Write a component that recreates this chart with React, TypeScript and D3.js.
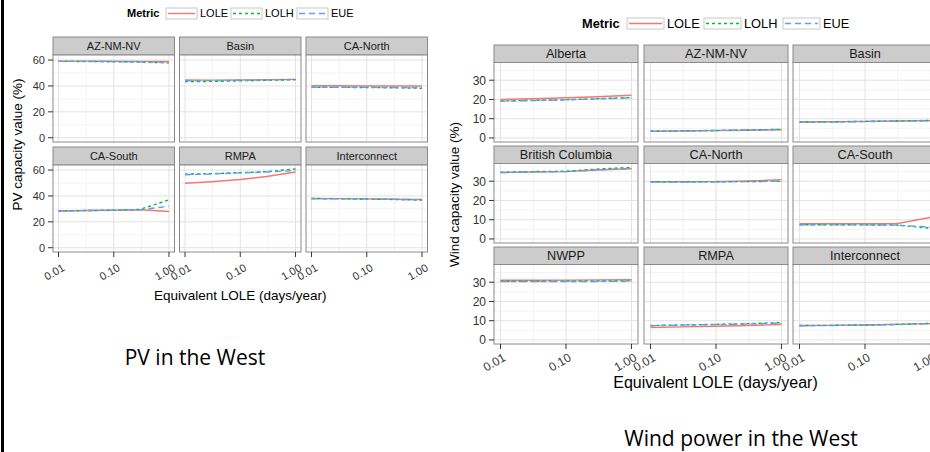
import React from 'react';
import * as d3 from 'd3';

// ---------- DATA ----------
const xValues = [0.01, 0.03, 0.1, 0.3, 1.0];
const xTicks = [0.01, 0.1, 1.0];
const xTickLabels = ['0.01', '0.10', '1.00'];
const xMinor = [Math.pow(10, -1.5), Math.pow(10, -0.5)];
const metrics = ['LOLE', 'LOLH', 'EUE'];

const pvRegions = ['AZ-NM-NV', 'Basin', 'CA-North', 'CA-South', 'RMPA', 'Interconnect'];
const pvLOLE = [
  [59.2, 59.2, 59.1, 59.0, 58.9],
  [44.6, 44.5, 44.6, 44.8, 45.1],
  [40.1, 40.1, 40.0, 40.0, 40.0],
  [28.4, 28.7, 29.0, 29.3, 28.0],
  [49.8, 51.0, 52.7, 55.0, 58.5],
  [38.0, 37.9, 37.7, 37.5, 37.2],
];
const pvLOLH = [
  [59.0, 58.9, 58.7, 58.4, 57.8],
  [43.4, 43.5, 44.0, 44.4, 44.8],
  [39.0, 38.9, 38.8, 38.6, 38.2],
  [28.4, 28.7, 29.0, 29.6, 37.0],
  [56.8, 57.2, 58.0, 58.8, 60.8],
  [38.0, 37.9, 37.6, 37.3, 36.8],
];
const pvEUE = [
  [59.0, 59.0, 58.8, 58.6, 58.2],
  [44.0, 44.1, 44.4, 44.7, 45.0],
  [39.0, 39.0, 38.9, 38.8, 38.6],
  [28.4, 28.7, 29.0, 29.4, 32.0],
  [56.4, 57.0, 57.8, 58.5, 59.5],
  [37.9, 37.8, 37.6, 37.4, 37.0],
];
const pvYTicks = [0, 20, 40, 60];
const pvYMinor = [10, 30, 50];

const windRegions = ['Alberta', 'AZ-NM-NV', 'Basin', 'British Columbia', 'CA-North', 'CA-South', 'NWPP', 'RMPA', 'Interconnect'];
const windLOLE = [
  [20.0, 20.4, 20.9, 21.4, 22.2],
  [3.4, 3.6, 3.8, 4.0, 4.3],
  [8.3, 8.4, 8.6, 8.8, 9.0],
  [34.5, 34.8, 35.0, 35.8, 36.5],
  [29.7, 29.7, 29.8, 30.1, 30.8],
  [7.9, 7.9, 7.9, 7.9, 11.2],
  [31.0, 31.0, 31.1, 31.2, 31.3],
  [6.5, 6.8, 7.1, 7.5, 8.0],
  [7.5, 7.6, 7.8, 8.1, 8.5],
];
const windLOLH = [
  [19.2, 19.5, 19.9, 20.4, 21.0],
  [3.6, 3.7, 3.9, 4.1, 4.5],
  [8.3, 8.4, 8.6, 8.8, 9.1],
  [34.6, 35.0, 35.2, 36.3, 37.2],
  [29.7, 29.7, 29.7, 29.8, 30.0],
  [7.4, 7.4, 7.3, 7.2, 5.6],
  [30.5, 30.5, 30.6, 30.6, 30.7],
  [7.5, 7.8, 8.1, 8.5, 9.0],
  [7.5, 7.6, 7.8, 8.1, 8.6],
];
const windEUE = [
  [19.1, 19.4, 19.8, 20.3, 20.8],
  [3.5, 3.7, 3.9, 4.1, 4.4],
  [8.2, 8.3, 8.5, 8.7, 8.9],
  [34.5, 34.8, 35.0, 35.9, 36.6],
  [29.6, 29.6, 29.7, 29.8, 30.0],
  [7.4, 7.3, 7.3, 7.2, 6.2],
  [30.3, 30.3, 30.4, 30.4, 30.5],
  [7.4, 7.7, 8.0, 8.3, 8.7],
  [7.4, 7.5, 7.7, 8.0, 8.4],
];
const windYTicks = [0, 10, 20, 30];
const windYMinor = [5, 15, 25, 35];

// ---------- STYLE ----------
const metricColor: Record<string, string> = { LOLE: '#F8766D', LOLH: '#00BA38', EUE: '#619CFF' };
const metricDash: Record<string, string> = { LOLE: 'none', LOLH: '3,3', EUE: '6,4' };
const FONT = '"Liberation Sans", Arial, Helvetica, sans-serif';

type Cfg = {
  id: string;
  regions: string[];
  series: Record<string, number[][]>;
  yDomain: [number, number];
  yTicks: number[];
  yMinor: number[];
  colLefts: number[];
  panelW: number;
  rowTops: number[];
  stripH: number;
  panelH: number;
  stripFont: number;
  tickFont: number;
  titleFont: number;
  yTitleFont: number;
  yTitle: string;
  yTitleX: number;
  xTitleY: number;
  legend: { metricX: number; y: number; font: number; boxes: number[]; boxW: number; boxH: number };
  labelDx: number;
  labelDy: number;
};

function FacetChart({ cfg }: { cfg: Cfg }) {
  const nRows = cfg.rowTops.length;
  const x = d3.scaleLog().domain([Math.pow(10, -2.1), Math.pow(10, 0.1)]).range([0, cfg.panelW]);
  const y = d3.scaleLinear().domain(cfg.yDomain).range([cfg.panelH, 0]);
  const line = d3
    .line<number>()
    .x((_, i) => x(xValues[i]))
    .y((d) => y(d));
  const panelsLeft = cfg.colLefts[0];
  const panelsRight = cfg.colLefts[cfg.colLefts.length - 1] + cfg.panelW;
  const topY = cfg.rowTops[0];
  const bottomY = cfg.rowTops[nRows - 1] + cfg.stripH + cfg.panelH;
  const lg = cfg.legend;

  return (
    <g fontFamily={FONT}>
      {/* legend */}
      <text x={lg.metricX} y={lg.y + lg.font * 0.36} fontSize={lg.font} fontWeight="bold" fill="#000">
        Metric
      </text>
      {metrics.map((m, i) => (
        <g key={m}>
          <rect x={lg.boxes[i]} y={lg.y - lg.boxH / 2} width={lg.boxW} height={lg.boxH} fill="#fff" stroke="#c8c8c8" strokeWidth={1} />
          <line
            x1={lg.boxes[i] + 2}
            x2={lg.boxes[i] + lg.boxW - 2}
            y1={lg.y}
            y2={lg.y}
            stroke={metricColor[m]}
            strokeWidth={1.4}
            strokeDasharray={metricDash[m]}
          />
          <text x={lg.boxes[i] + lg.boxW + 3} y={lg.y + lg.font * 0.36} fontSize={lg.font} fill="#000">
            {m}
          </text>
        </g>
      ))}

      {cfg.regions.map((r, idx) => {
        const col = idx % 3;
        const row = Math.floor(idx / 3);
        const px = cfg.colLefts[col];
        const sy = cfg.rowTops[row];
        const py = sy + cfg.stripH;
        const clipId = `${cfg.id}-clip-${idx}`;
        return (
          <g key={r}>
            <rect x={px} y={sy} width={cfg.panelW} height={cfg.stripH} fill="#cccccc" stroke="#8a8a8a" strokeWidth={1} />
            <text x={px + cfg.panelW / 2} y={sy + cfg.stripH / 2 + cfg.stripFont * 0.36} textAnchor="middle" fontSize={cfg.stripFont} fill="#1a1a1a">
              {r}
            </text>
            <g transform={`translate(${px},${py})`}>
              <defs>
                <clipPath id={clipId}>
                  <rect x={0} y={0} width={cfg.panelW} height={cfg.panelH} />
                </clipPath>
              </defs>
              <rect x={0} y={0} width={cfg.panelW} height={cfg.panelH} fill="#fff" />
              {xMinor.map((v, i) => (
                <line key={'xm' + i} x1={x(v)} x2={x(v)} y1={0} y2={cfg.panelH} stroke="#f3f3f3" strokeWidth={1} />
              ))}
              {cfg.yMinor.map((v, i) =>
                y(v) > 0 ? <line key={'ym' + i} x1={0} x2={cfg.panelW} y1={y(v)} y2={y(v)} stroke="#f3f3f3" strokeWidth={1} /> : null
              )}
              {xTicks.map((v, i) => (
                <line key={'xg' + i} x1={x(v)} x2={x(v)} y1={0} y2={cfg.panelH} stroke="#e2e2e2" strokeWidth={1} />
              ))}
              {cfg.yTicks.map((v, i) => (
                <line key={'yg' + i} x1={0} x2={cfg.panelW} y1={y(v)} y2={y(v)} stroke="#e2e2e2" strokeWidth={1} />
              ))}
              <g clipPath={`url(#${clipId})`}>
                {metrics.map((m) => (
                  <path
                    key={m}
                    d={line(cfg.series[m][idx]) || ''}
                    fill="none"
                    stroke={metricColor[m]}
                    strokeWidth={1.4}
                    strokeDasharray={metricDash[m]}
                  />
                ))}
              </g>
              <rect x={0} y={0} width={cfg.panelW} height={cfg.panelH} fill="none" stroke="#8a8a8a" strokeWidth={1} />
              {col === 0 &&
                cfg.yTicks.map((v, i) => (
                  <g key={'yt' + i}>
                    <line x1={-5} x2={0} y1={y(v)} y2={y(v)} stroke="#333" strokeWidth={1} />
                    <text x={-8} y={y(v) + cfg.tickFont * 0.36} textAnchor="end" fontSize={cfg.tickFont} fill="#333">
                      {v}
                    </text>
                  </g>
                ))}
              {row === nRows - 1 &&
                xTicks.map((v, i) => (
                  <g key={'xt' + i}>
                    <line x1={x(v)} x2={x(v)} y1={cfg.panelH} y2={cfg.panelH + 5} stroke="#333" strokeWidth={1} />
                    <text
                      transform={`translate(${x(v) + cfg.labelDx},${cfg.panelH + cfg.labelDy}) rotate(-30)`}
                      textAnchor="end"
                      fontSize={cfg.tickFont}
                      fill="#333"
                    >
                      {xTickLabels[i]}
                    </text>
                  </g>
                ))}
            </g>
          </g>
        );
      })}

      <text x={(panelsLeft + panelsRight) / 2} y={cfg.xTitleY} textAnchor="middle" fontSize={cfg.titleFont} fill="#000">
        Equivalent LOLE (days/year)
      </text>
      <text
        transform={`translate(${cfg.yTitleX},${(topY + bottomY) / 2}) rotate(-90)`}
        textAnchor="middle"
        fontSize={cfg.yTitleFont}
        fill="#000"
      >
        {cfg.yTitle}
      </text>
    </g>
  );
}

const pvCfg: Cfg = {
  id: 'pv',
  regions: pvRegions,
  series: { LOLE: pvLOLE, LOLH: pvLOLH, EUE: pvEUE },
  yDomain: [-3.3, 63.9],
  yTicks: pvYTicks,
  yMinor: pvYMinor,
  colLefts: [53, 179.5, 306],
  panelW: 121.5,
  rowTops: [37, 147],
  stripH: 18,
  panelH: 87,
  stripFont: 11,
  tickFont: 11,
  titleFont: 13.5,
  yTitleFont: 13.5,
  yTitle: 'PV capacity value (%)',
  yTitleX: 22,
  xTitleY: 300,
  legend: { metricX: 127, y: 13.5, font: 11, boxes: [166, 231, 297], boxW: 31, boxH: 11 },
  labelDx: 7,
  labelDy: 18,
};

const windCfg: Cfg = {
  id: 'wind',
  regions: windRegions,
  series: { LOLE: windLOLE, LOLH: windLOLH, EUE: windEUE },
  yDomain: [-2.1, 39.2],
  yTicks: windYTicks,
  yMinor: windYMinor,
  colLefts: [494, 644, 793],
  panelW: 144,
  rowTops: [45, 146, 247],
  stripH: 17.5,
  panelH: 79.5,
  stripFont: 12.7,
  tickFont: 12,
  titleFont: 16,
  yTitleFont: 13.5,
  yTitle: 'Wind capacity value (%)',
  yTitleX: 459,
  xTitleY: 388,
  legend: { metricX: 582, y: 23.5, font: 12.8, boxes: [627, 704, 783], boxW: 37, boxH: 11 },
  labelDx: 6,
  labelDy: 16,
};

export default function App() {
  return (
    <svg width={930} height={452} style={{ position: 'absolute', left: 0, top: 0, background: '#fff' }}>
      <rect x={0} y={0} width={930} height={452} fill="#fff" />
      <rect x={1} y={0} width={3} height={452} fill="#000" />
      <FacetChart cfg={pvCfg} />
      <FacetChart cfg={windCfg} />
      <text x={195} y={365} textAnchor="middle" fontSize={21} fontFamily='"Open Sans", "Noto Sans", sans-serif' fill="#000">
        PV in the West
      </text>
      <text x={741} y={446} textAnchor="middle" fontSize={21} fontFamily='"Open Sans", "Noto Sans", sans-serif' fill="#000">
        Wind power in the West
      </text>
    </svg>
  );
}
